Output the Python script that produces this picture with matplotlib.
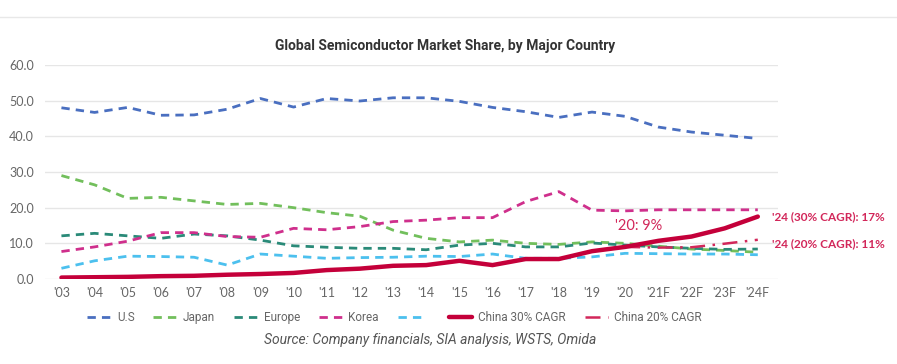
import numpy as np
import matplotlib.pyplot as plt
from matplotlib.lines import Line2D

years = ["'03", "'04", "'05", "'06", "'07", "'08", "'09", "'10", "'11", "'12", "'13",
         "'14", "'15", "'16", "'17", "'18", "'19", "'20", "'21F", "'22F", "'23F", "'24F"]

us = [48.0, 46.7, 48.1, 45.9, 46.0, 47.6, 50.6, 48.2, 50.6, 49.9, 50.8,
      50.8, 49.8, 48.1, 46.9, 45.3, 46.8, 45.6, 42.6, 41.2, 40.3, 39.4]
japan = [29.0, 26.4, 22.6, 22.9, 21.9, 20.9, 21.2, 20.0, 18.6, 17.6, 13.7,
         11.4, 10.4, 10.9, 10.0, 9.7, 10.4, 10.0, 9.2, 8.4, 8.0, 7.5]
europe = [12.1, 12.8, 12.1, 11.4, 12.6, 12.1, 10.9, 9.3, 8.9, 8.6, 8.6,
          8.2, 9.5, 10.0, 9.0, 9.0, 10.1, 9.5, 9.0, 8.6, 8.3, 8.4]
korea = [7.7, 9.0, 10.6, 13.0, 13.0, 11.9, 11.7, 14.2, 13.8, 14.7, 16.1,
         16.5, 17.2, 17.2, 21.7, 24.5, 19.3, 19.1, 19.4, 19.4, 19.4, 19.4]
taiwan = [3.0, 5.1, 6.4, 6.3, 6.1, 3.9, 7.0, 6.4, 5.8, 6.0, 6.1,
          6.4, 6.3, 7.0, 5.8, 5.8, 6.2, 7.2, 7.1, 7.0, 7.0, 6.8]
china30 = [0.4, 0.5, 0.6, 0.8, 0.9, 1.2, 1.4, 1.7, 2.5, 2.9, 3.7,
           3.9, 5.1, 3.9, 5.6, 5.6, 7.8, 9.0, 10.7, 11.9, 14.2, 17.5]
china20_years = ["'20", "'21F", "'22F", "'23F", "'24F"]
china20 = [9.0, 8.8, 8.9, 9.9, 11.0]

x = np.arange(len(years))
x20 = [years.index(y) for y in china20_years]

c_us = '#4a6fc0'
c_jp = '#72bf5c'
c_eu = '#2a8a78'
c_ko = '#cf2f8c'
c_tw = '#4cc0ee'
c_cn = '#c4003a'
c_txt = '#d2275a'

plt.rcParams['font.family'] = ['Lato', 'DejaVu Sans']

fig = plt.figure(figsize=(8.97, 3.64), dpi=100)
ax = fig.add_axes([0.050, 0.2335, 0.817, 0.588])

dash = (0, (3, 2.2))
ax.plot(x, us, color=c_us, lw=2, ls=dash, label='U.S')
ax.plot(x, japan, color=c_jp, lw=2, ls=dash, label='Japan')
ax.plot(x, europe, color=c_eu, lw=2, ls=dash, label='Europe')
ax.plot(x, korea, color=c_ko, lw=2, ls=dash, label='Korea')
ax.plot(x, taiwan, color=c_tw, lw=2, ls=dash, label=' ')
ax.plot(x, china30, color=c_cn, lw=3.2, solid_capstyle='round', label='China 30% CAGR', zorder=5)
ax.plot(x20, china20, color=c_txt, lw=1.8, ls=(0, (6, 3, 1, 3)), label='China 20% CAGR', zorder=4)

ax.set_ylim(0, 60)
ax.set_xlim(-0.5, len(years) - 0.4)
ax.set_yticks(np.arange(0, 61, 10))
ax.set_yticklabels([f'{v:.1f}' for v in np.arange(0, 61, 10)])
ax.set_xticks(x)
ax.set_xticklabels(years)
ax.tick_params(length=0, labelsize=9, colors='#666666', pad=6)
ax.tick_params(axis='y', pad=8)
ax.grid(axis='y', color='#e6e6e6', lw=1)
ax.set_axisbelow(True)
for s in ax.spines.values():
    s.set_visible(False)

ax.text(x[17] - 0.3, 12.8, "'20: 9%", color=c_txt, fontsize=10.5, ha='left', va='bottom')
ax.annotate("'24 (30% CAGR): 17%", xy=(x[-1], china30[-1]), xytext=(10, 0),
            textcoords='offset points', color=c_txt, fontsize=8.5, va='center',
            annotation_clip=False, fontweight='bold')
ax.annotate("'24 (20% CAGR): 11%", xy=(x[-1], 10.0), xytext=(10, 0),
            textcoords='offset points', color=c_txt, fontsize=8.5, va='center',
            annotation_clip=False, fontweight='bold')

fig.text(0.496, 0.873, 'Global Semiconductor Market Share, by Major Country',
         ha='center', va='center', fontsize=10, fontweight='bold', color='#333333',
         family=['Roboto', 'DejaVu Sans'])

handles, labels = ax.get_legend_handles_labels()
leg = fig.legend(handles, labels, loc='center', bbox_to_anchor=(0.44, 0.128), ncol=7,
                 frameon=False, handlelength=2.0, columnspacing=1.6,
                 handletextpad=0.5, prop={'family': ['Roboto', 'DejaVu Sans'], 'size': 8.5})
for t in leg.get_texts():
    t.set_color('#666666')

fig.text(0.48, 0.066, 'Source: Company financials, SIA analysis, WSTS, Omida',
         ha='center', va='center', fontsize=10, style='italic', color='#555555',
         family=['Roboto', 'DejaVu Sans'])

fig.add_artist(Line2D([0.0, 1.0], [0.953, 0.953], color='#e8e8e8', lw=1))

fig.savefig('out.png', dpi=100, facecolor='white')
